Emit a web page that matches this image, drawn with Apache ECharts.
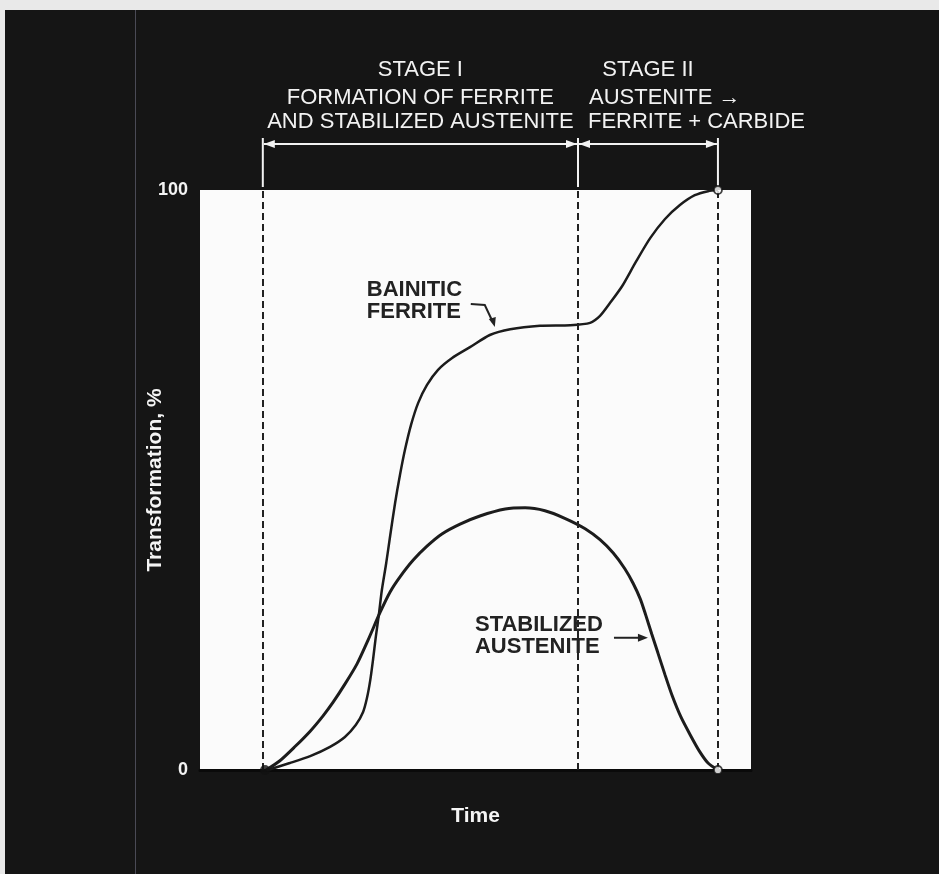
<!DOCTYPE html>
<html><head><meta charset="utf-8">
<script src="https://cdn.jsdelivr.net/npm/echarts@6/dist/echarts.min.js"></script>
<style>html,body{margin:0;padding:0;background:#151515;}#c{width:939px;height:874px;}</style>
</head><body><div id="c"></div>
<script>
// ---- data ----
const yTicks = [0, 100];
const stageBounds = [11.4, 68.6, 94.0];
const stageTitles = ['STAGE I', 'STAGE II'];
const stage1Desc = ['FORMATION OF FERRITE', 'AND STABILIZED AUSTENITE'];
const stage2Desc = ['AUSTENITE \u2192', 'FERRITE + CARBIDE'];
const ferriteX = [12.3, 16.3, 20.0, 23.6, 26.3, 28.3, 29.6, 30.3, 30.9, 31.4, 31.9, 32.5, 33.0, 33.8, 34.5, 35.4, 36.3, 37.2, 38.3, 39.6, 41.2, 43.2, 45.7, 49.0, 52.6, 56.3, 61.7, 67.2, 70.8, 72.6, 74.4, 76.6, 79.1, 81.7, 84.4, 87.1, 89.8, 92.2, 94.0];
const ferriteY = [0, 1.2, 2.4, 4.0, 5.7, 7.8, 10.0, 12.4, 15.5, 19.0, 22.9, 27.1, 31.0, 35.7, 40.3, 46.0, 50.9, 55.2, 59.5, 63.3, 66.4, 69.0, 71.0, 72.9, 75.0, 76.0, 76.6, 76.7, 77.1, 78.3, 80.5, 83.4, 87.6, 91.7, 95.0, 97.4, 99.1, 99.8, 100];
const austeniteX = [12.0, 14.5, 17.2, 20.0, 22.3, 24.1, 26.3, 28.5, 30.5, 32.7, 34.5, 36.3, 38.7, 41.2, 43.9, 47.2, 50.8, 55.4, 59.0, 62.6, 66.2, 69.9, 72.6, 75.0, 77.1, 78.6, 79.9, 80.9, 82.0, 83.1, 84.4, 85.7, 87.3, 89.0, 90.6, 92.2, 94.0];
const austeniteY = [0, 1.6, 4.0, 6.7, 9.3, 11.6, 14.8, 18.3, 22.4, 27.2, 30.7, 33.3, 36.2, 38.6, 40.7, 42.4, 43.8, 45.0, 45.2, 44.7, 43.4, 41.6, 39.7, 37.4, 34.7, 32.2, 29.5, 26.7, 23.4, 20.2, 16.4, 12.8, 9.1, 6.0, 3.3, 1.2, 0];
const endMarkersX = [94.0, 94.0];
const endMarkersY = [100, 0];
const startMarkerX = [11.8];
const startMarkerY = [0];
const ferriteLabel = ['BAINITIC', 'FERRITE'];
const austeniteLabel = ['STABILIZED', 'AUSTENITE'];
const ferriteArrowTip = [53.5, 76.2];
const austeniteArrowTip = [81.3, 22.8];

// ---- chart ----
const FONT = 'Liberation Sans, Arial, Helvetica, sans-serif';
const chart = echarts.init(document.getElementById('c'), null, {renderer: 'canvas'});
const zip = (xs, ys) => xs.map((x, i) => [x, ys[i]]);
const curveColor = '#1c1c1c';

chart.setOption({
  animation: false,
  backgroundColor: '#151515',
  grid: {left: 200, right: 188, top: 190, bottom: 104, show: true, backgroundColor: '#fbfbfb', borderWidth: 0},
  xAxis: {
    type: 'value', min: 0, max: 100,
    axisLine: {show: true, lineStyle: {color: '#0a0a0a', width: 3}},
    axisTick: {show: false}, axisLabel: {show: false}, splitLine: {show: false},
    name: 'Time', nameLocation: 'middle', nameGap: 36,
    nameTextStyle: {color: '#f4f4f4', fontWeight: 'bold', fontSize: 21, fontFamily: FONT}
  },
  yAxis: {
    type: 'value', min: yTicks[0], max: yTicks[yTicks.length - 1], interval: 100,
    axisLine: {show: false}, axisTick: {show: false}, splitLine: {show: false},
    axisLabel: {color: '#f4f4f4', fontWeight: 'bold', fontSize: 18, fontFamily: FONT, margin: 12},
    name: 'Transformation, %', nameLocation: 'middle', nameGap: 34, nameRotate: 90,
    nameMoveOverlap: false,
    nameTextStyle: {color: '#f4f4f4', fontWeight: 'bold', fontSize: 21, fontFamily: FONT}
  },
  series: [
    {
      type: 'line', name: 'Bainitic ferrite', data: zip(ferriteX, ferriteY),
      smooth: 0.25, showSymbol: false, silent: true,
      lineStyle: {color: curveColor, width: 2.5},
      markLine: {
        silent: true, symbol: ['none', 'none'], label: {show: false},
        lineStyle: {type: [7, 4], color: '#222', width: 2},
        data: stageBounds.map(v => ({xAxis: v}))
      }
    },
    {
      type: 'line', name: 'Stabilized austenite', data: zip(austeniteX, austeniteY),
      smooth: 0.25, showSymbol: false, silent: true,
      lineStyle: {color: curveColor, width: 3}
    },
    {
      type: 'scatter', data: zip(endMarkersX, endMarkersY), symbol: 'circle', symbolSize: 8,
      itemStyle: {color: '#ffffff', borderColor: '#111', borderWidth: 1.8}, silent: true, z: 5
    },
    {
      type: 'scatter', data: zip(startMarkerX, startMarkerY), symbol: 'circle', symbolSize: 10,
      itemStyle: {color: '#111'}, silent: true, z: 5
    }
  ]
});

// ---- annotations positioned from the axes ----
const P = (x, y) => chart.convertToPixel({gridIndex: 0}, [x, y]);
const topY = P(0, 100)[1];
const bx = stageBounds.map(v => P(v, 100)[0]);
const white = '#f2f2f2';
const g = [];
// page edge strips
g.push({type: 'rect', shape: {x: 0, y: 0, width: 939, height: 10}, style: {fill: '#e9e9e9'}, silent: true});
g.push({type: 'rect', shape: {x: 0, y: 0, width: 5, height: 874}, style: {fill: '#e9e9e9'}, silent: true});
g.push({type: 'line', shape: {x1: 135.5, y1: 10, x2: 135.5, y2: 874}, style: {stroke: '#4a4a55', lineWidth: 1}, silent: true});
// white extension ticks above plot
bx.forEach(x => g.push({type: 'line', shape: {x1: x, y1: topY - 52, x2: x, y2: topY - 3}, style: {stroke: white, lineWidth: 2}, silent: true}));
// brackets with arrowheads
const by = topY - 46;
for (let i = 0; i < 2; i++) {
  const a = bx[i] + 1, b = bx[i + 1] - 1;
  g.push({type: 'line', shape: {x1: a, y1: by, x2: b, y2: by}, style: {stroke: white, lineWidth: 2}, silent: true});
  g.push({type: 'polygon', shape: {points: [[a, by], [a + 11, by - 4], [a + 11, by + 4]]}, style: {fill: white}, silent: true});
  g.push({type: 'polygon', shape: {points: [[b, by], [b - 11, by - 4], [b - 11, by + 4]]}, style: {fill: white}, silent: true});
}
const txt = (x, y, text, align, color, size, weight) => ({
  type: 'text', x: x, y: y, silent: true,
  style: {text: text, fill: color, font: (weight || 'normal') + ' ' + size + 'px ' + FONT, textAlign: align, textVerticalAlign: 'middle'}
});
const m1 = (bx[0] + bx[1]) / 2, m2 = (bx[1] + bx[2]) / 2;
g.push(txt(m1, topY - 120, stageTitles[0], 'center', white, 22));
g.push(txt(m2, topY - 120, stageTitles[1], 'center', white, 22));
g.push(txt(m1, topY - 92, stage1Desc[0], 'center', white, 22));
g.push(txt(m1, topY - 68, stage1Desc[1], 'center', white, 22));
g.push(txt(bx[1] + 11, topY - 92, stage2Desc[0], 'left', white, 22));
g.push(txt(bx[1] + 10, topY - 68, stage2Desc[1], 'left', white, 22));
// Bainitic ferrite label + leader
const ft = P(ferriteArrowTip[0], ferriteArrowTip[1]);
g.push(txt(ft[0] - 128, ft[1] - 38, ferriteLabel[0], 'left', '#222', 22, 'bold'));
g.push(txt(ft[0] - 128, ft[1] - 16, ferriteLabel[1], 'left', '#222', 22, 'bold'));
g.push({type: 'polyline', shape: {points: [[ft[0] - 24, ft[1] - 24], [ft[0] - 10, ft[1] - 23], [ft[0] - 2, ft[1] - 6]]}, style: {stroke: '#222', lineWidth: 2, fill: null}, silent: true});
g.push({type: 'polygon', shape: {points: [[ft[0], ft[1] - 1], [ft[0] - 6, ft[1] - 9], [ft[0] + 1, ft[1] - 11]]}, style: {fill: '#222'}, silent: true});
// Stabilized austenite label + arrow
const at = P(austeniteArrowTip[0], austeniteArrowTip[1]);
g.push(txt(at[0] - 173, at[1] - 13, austeniteLabel[0], 'left', '#222', 22, 'bold'));
g.push(txt(at[0] - 173, at[1] + 9, austeniteLabel[1], 'left', '#222', 22, 'bold'));
g.push({type: 'line', shape: {x1: at[0] - 34, y1: at[1], x2: at[0] - 8, y2: at[1]}, style: {stroke: '#222', lineWidth: 2}, silent: true});
g.push({type: 'polygon', shape: {points: [[at[0], at[1]], [at[0] - 10, at[1] - 4], [at[0] - 10, at[1] + 4]]}, style: {fill: '#222'}, silent: true});
chart.setOption({graphic: g});
</script>
</body></html>
